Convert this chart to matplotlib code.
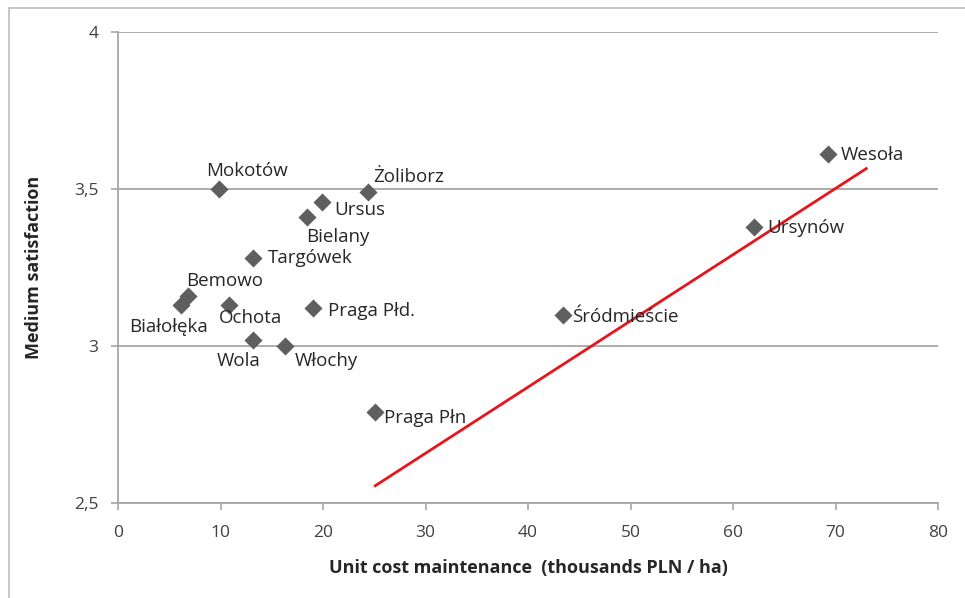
import matplotlib
matplotlib.use("Agg")
import matplotlib.pyplot as plt
from matplotlib.patches import Rectangle

# Data
districts = ["Mokotów", "Żoliborz", "Ursus", "Bielany", "Targówek", "Bemowo",
             "Białołęka", "Ochota", "Praga Płd.", "Wola", "Włochy", "Praga Płn",
             "Śródmieście", "Ursynów", "Wesoła"]
cost = [9.9, 24.4, 19.9, 18.4, 13.2, 6.8, 6.1, 10.8, 19.0, 13.2, 16.3, 25.1,
        43.4, 62.0, 69.3]
satisfaction = [3.50, 3.49, 3.46, 3.41, 3.28, 3.16, 3.13, 3.13, 3.12, 3.02,
                3.00, 2.79, 3.10, 3.38, 3.61]
trend_x = [25.1, 73.0]
trend_y = [2.555, 3.565]
x_ticks = [0, 10, 20, 30, 40, 50, 60, 70, 80]
y_ticks = [2.5, 3.0, 3.5, 4.0]
y_tick_labels = ["2,5", "3", "3,5", "4"]

# label offsets in pixels (dx, dy)
label_pos = {
    "Mokotów": (-13, 18),
    "Żoliborz": (5, 15),
    "Ursus": (12, -8),
    "Bielany": (0, -20),
    "Targówek": (15, 0),
    "Bemowo": (-2, 15),
    "Białołęka": (-51, -22),
    "Ochota": (-10, -13),
    "Praga Płd.": (15, -3),
    "Wola": (-37, -21),
    "Włochy": (10, -15),
    "Praga Płn": (9, -6),
    "Śródmieście": (9, -2),
    "Ursynów": (14, -1),
    "Wesoła": (12, -1),
}

plt.rcParams['font.family'] = ['Open Sans', 'DejaVu Sans']

fig = plt.figure(figsize=(9.65, 5.98), dpi=100)
fig.patches.append(Rectangle((9 / 965, -0.1), 1.2, 1.1 - 8 / 598,
                             transform=fig.transFigure, fill=False,
                             edgecolor="#bdbdbd", linewidth=1.2))
ax = fig.add_axes([118 / 965, 1 - 503 / 598, (938 - 118) / 965, (503 - 32) / 598])

grid_c = "#a6a6a6"
ax.set_xlim(0, 80)
ax.set_ylim(2.5, 4.0)
ax.set_xticks(x_ticks)
ax.set_yticks(y_ticks)
ax.set_yticklabels(y_tick_labels)
ax.yaxis.grid(True, color=grid_c, linewidth=1.3)
ax.set_axisbelow(True)
for s in ["top", "right"]:
    ax.spines[s].set_visible(False)
for s in ["left", "bottom"]:
    ax.spines[s].set_color(grid_c)
    ax.spines[s].set_linewidth(1.3)
ax.tick_params(axis="both", direction="out", length=5, width=1.2, color=grid_c,
               labelsize=12.5, labelcolor="#404040")
ax.tick_params(axis="x", pad=11)
ax.tick_params(axis="y", pad=9)

ax.plot(trend_x, trend_y, color="#e8141b", linewidth=2.0, zorder=2)
ax.scatter(cost, satisfaction, marker="D", s=85, color="#5f5f5f", zorder=3,
           linewidths=0)

for name, x, y in zip(districts, cost, satisfaction):
    dx, dy = label_pos[name]
    ax.annotate(name, (x, y), xytext=(dx, dy), textcoords="offset pixels",
                ha="left", va="center", fontsize=13.5, color="#262626", zorder=4)

ax.set_xlabel("Unit cost maintenance  (thousands PLN / ha)", fontsize=13,
              fontweight="bold", color="#262626", labelpad=13)
ax.set_ylabel("Medium satisfaction", fontsize=13, fontweight="bold",
              color="#262626", labelpad=22)

fig.savefig("out.png", dpi=100)
